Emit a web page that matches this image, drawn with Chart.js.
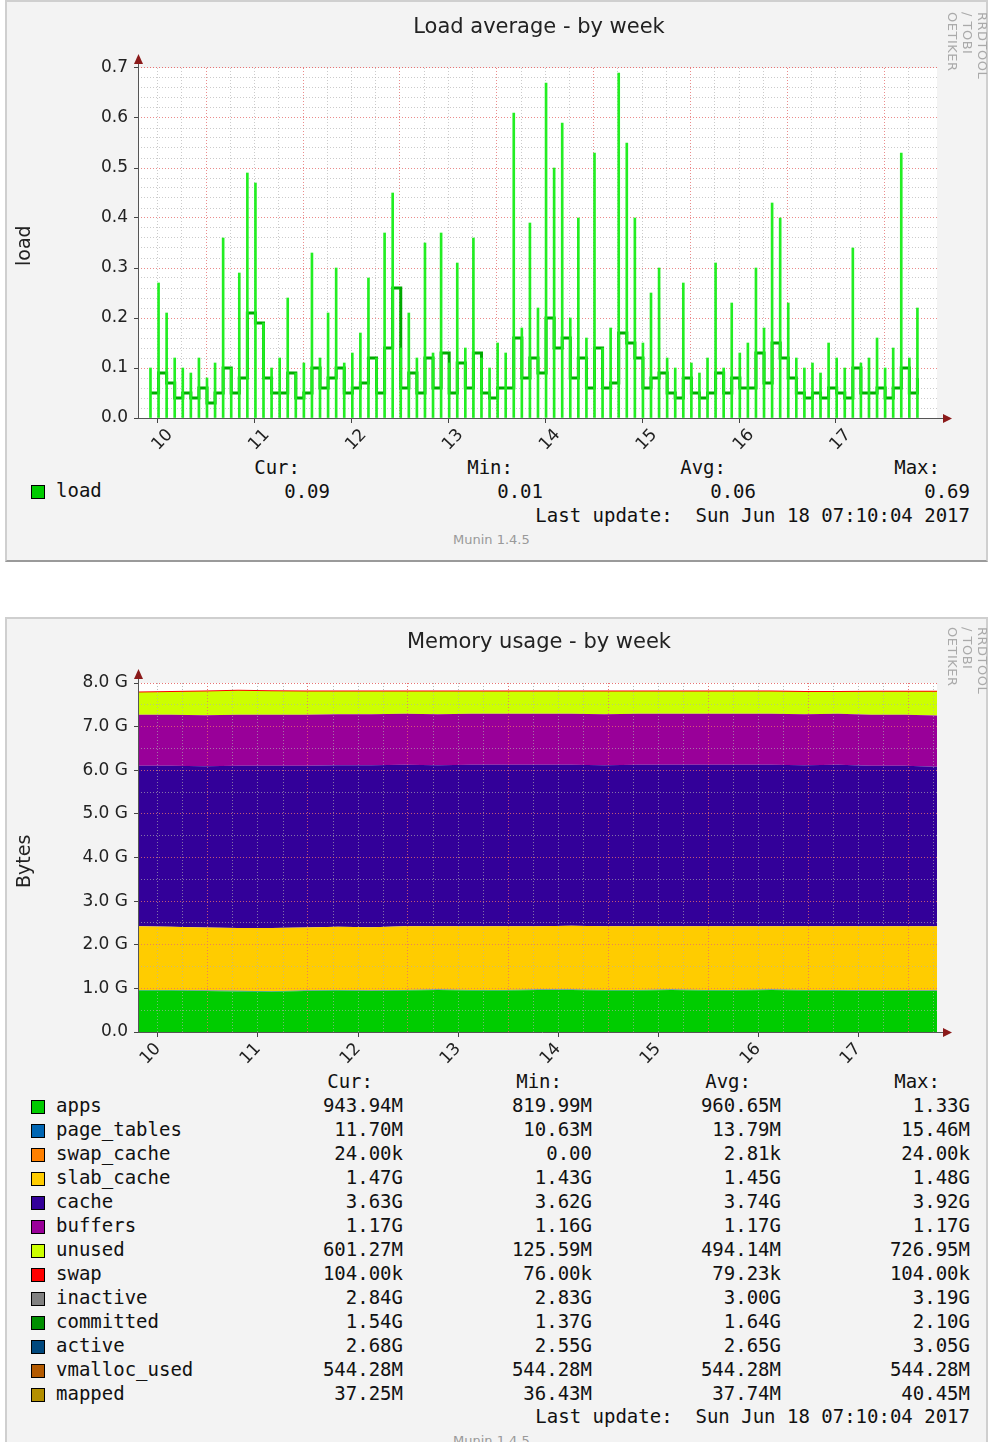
<!DOCTYPE html>
<html><head><meta charset="utf-8">
<script src="https://cdn.jsdelivr.net/npm/chart.js@4.4.1/dist/chart.umd.min.js"></script>
<style>
body{margin:0;width:990px;height:1442px;background:#fff;position:relative;overflow:hidden;font-family:"DejaVu Sans",sans-serif;}
.panel{position:absolute;left:5px;width:983px;background:#f3f3f3;border:2px solid #cfcfcf;border-bottom-color:#9a9a9a;box-sizing:border-box;}
.abs{position:absolute;white-space:pre;}
.title{font-size:21px;color:#222;width:990px;text-align:center;left:45px;}
.mono{font-family:"DejaVu Sans Mono",monospace;font-size:19px;color:#111;}
.r{text-align:right;}
.sw{position:absolute;width:12px;height:12px;border:1px solid #000;}
.vt{position:absolute;transform:rotate(90deg);transform-origin:left top;font-size:13px;color:#aaa;letter-spacing:0.5px;}
.yt{position:absolute;transform:rotate(-90deg);transform-origin:left top;font-size:19px;color:#222;}
.mun{font-size:13px;color:#999;}
</style></head><body>
<div class="panel" style="top:0;height:562px;"></div>
<div class="panel" style="top:617px;height:840px;"></div>
<div id="c1" style="position:absolute;left:0;top:0;width:990px;height:450px;"><canvas id="k1"></canvas></div>
<div id="c2" style="position:absolute;left:0;top:618px;width:990px;height:450px;"><canvas id="k2"></canvas></div>
<div id="txt"></div>
<script>
// ---------- Load average data (2h steps) ----------
const loadPeak = [0.10,0.27,0.21,0.12,0.10,0.09,0.12,0.08,0.11,0.36,0.10,0.29,
0.49,0.47,0.19,0.10,0.12,0.24,0.09,0.11,0.33,0.12,0.21,0.30,
0.11,0.13,0.17,0.28,0.12,0.37,0.45,0.14,0.21,0.12,0.35,0.13,
0.37,0.11,0.31,0.14,0.36,0.12,0.10,0.15,0.13,0.61,0.18,0.39,
0.22,0.67,0.50,0.59,0.20,0.40,0.16,0.53,0.14,0.18,0.69,0.55,
0.40,0.15,0.25,0.30,0.12,0.10,0.27,0.11,0.09,0.12,0.31,0.10,
0.23,0.13,0.15,0.30,0.18,0.43,0.40,0.23,0.12,0.10,0.11,0.09,
0.15,0.12,0.10,0.34,0.11,0.12,0.16,0.10,0.14,0.53,0.12,0.22];
const loadAvg = [0.05,0.09,0.07,0.04,0.05,0.04,0.06,0.03,0.05,0.10,0.05,0.08,
0.21,0.19,0.08,0.05,0.05,0.09,0.04,0.05,0.10,0.06,0.08,0.10,
0.05,0.06,0.07,0.12,0.05,0.14,0.26,0.06,0.09,0.05,0.12,0.06,
0.13,0.05,0.11,0.06,0.13,0.05,0.04,0.06,0.06,0.16,0.08,0.12,
0.09,0.20,0.14,0.16,0.08,0.12,0.06,0.14,0.06,0.07,0.17,0.15,
0.12,0.06,0.08,0.09,0.05,0.04,0.08,0.05,0.04,0.05,0.09,0.05,
0.08,0.06,0.06,0.13,0.07,0.15,0.12,0.08,0.05,0.04,0.05,0.04,
0.06,0.05,0.04,0.10,0.05,0.05,0.06,0.04,0.06,0.10,0.05,0.08];
const loadStart = 9.8, loadStep = 1/12;
const dayTicks = [10,11,12,13,14,15,16,17];
const loadTicks = [0.0,0.1,0.2,0.3,0.4,0.5,0.6,0.7];

// ---------- Memory data (GB, 8h steps) ----------
const memStart = 9.8, memStep = 8/24;
const apps       = [0.95,0.95,0.94,0.93,0.92,0.94,0.95,0.94,0.95,0.96,0.95,0.95,0.96,0.96,0.95,0.95,0.96,0.95,0.95,0.96,0.95,0.95,0.94,0.94,0.94];
const pageTables = [0.013,0.013,0.013,0.013,0.013,0.014,0.014,0.014,0.014,0.014,0.014,0.014,0.014,0.014,0.014,0.014,0.014,0.014,0.014,0.014,0.014,0.014,0.012,0.012,0.012];
const swapCache  = [0,0,0,0,0,0,0,0,0,0,0,0,0,0,0,0,0,0,0,0,0,0,0,0,0];
const slabCache  = [1.46,1.45,1.44,1.44,1.45,1.44,1.45,1.45,1.46,1.45,1.46,1.46,1.45,1.46,1.46,1.46,1.45,1.46,1.46,1.45,1.46,1.46,1.47,1.47,1.47];
const cache      = [3.68,3.69,3.70,3.72,3.72,3.71,3.70,3.71,3.70,3.69,3.70,3.70,3.70,3.69,3.69,3.70,3.70,3.70,3.70,3.70,3.69,3.70,3.68,3.68,3.66];
const buffers    = [1.17,1.17,1.17,1.17,1.17,1.17,1.17,1.17,1.17,1.17,1.17,1.17,1.17,1.17,1.17,1.17,1.17,1.17,1.17,1.17,1.17,1.17,1.17,1.17,1.17];
const unused     = [0.51,0.52,0.54,0.55,0.54,0.53,0.52,0.52,0.51,0.52,0.51,0.51,0.51,0.51,0.52,0.51,0.51,0.51,0.51,0.51,0.51,0.50,0.53,0.53,0.55];
const swap       = [0.0001,0.0001,0.0001,0.0001,0.0001,0.0001,0.0001,0.0001,0.0001,0.0001,0.0001,0.0001,0.0001,0.0001,0.0001,0.0001,0.0001,0.0001,0.0001,0.0001,0.0001,0.0001,0.0001,0.0001,0.0001];
const inactive   = [2.99,2.98,3.10,2.99,3.00,3.00,3.00,2.99,3.00,2.98,2.98,2.97,2.99,2.98,2.98,2.98,2.97,2.97,2.98,2.97,2.98,2.96,2.95,2.90,2.84];
const committed  = [1.62,1.60,1.60,1.58,1.56,1.58,1.58,1.59,1.60,1.66,1.62,1.63,1.64,1.64,1.66,1.64,1.67,1.64,1.63,1.65,1.62,1.63,1.62,1.63,1.57];
const active     = [2.64,2.66,2.60,2.58,2.60,2.62,2.60,2.62,2.63,2.64,2.65,2.66,2.65,2.66,2.66,2.67,2.66,2.67,2.66,2.66,2.65,2.65,2.64,2.63,2.68];
const vmalloc    = [0.544,0.544,0.544,0.544,0.544,0.544,0.544,0.544,0.544,0.544,0.544,0.544,0.544,0.544,0.544,0.544,0.544,0.544,0.544,0.544,0.544,0.544,0.544,0.544,0.544];
const mapped     = [0.037,0.037,0.038,0.038,0.038,0.037,0.037,0.038,0.038,0.037,0.037,0.038,0.038,0.038,0.037,0.037,0.038,0.038,0.037,0.037,0.038,0.038,0.037,0.037,0.037];
const memTicks = [0,1,2,3,4,5,6,7,8];

const xy = (arr, s, st) => arr.map((v,i)=>({x:s+i*st, y:v}));
const tv = c => (c && c.tick) ? c.tick.value : NaN;
const isInt=v=>Math.abs(v-Math.round(v))<1e-6;
const RED='rgba(230,110,110,0.8)', GREY='rgba(175,175,175,0.65)', CLR='rgba(0,0,0,0)';

const deco = {
  id:'deco',
  beforeDatasetsDraw(c){const a=c.chartArea,g=c.ctx;g.save();g.fillStyle='#fff';g.fillRect(a.left,a.top,a.right-a.left,a.bottom-a.top);g.restore();
    c.scales.x.drawGrid(a);c.scales.y.drawGrid(a);},
  afterDatasetsDraw(c){const a=c.chartArea,g=c.ctx;
    if(c.options.gridOnTop){c.scales.x.drawGrid(a);c.scales.y.drawGrid(a);}
    g.save();g.strokeStyle='#555';g.lineWidth=1;
    g.beginPath();g.moveTo(a.left+0.5,a.bottom);g.lineTo(a.left+0.5,a.top-10);g.stroke();
    g.beginPath();g.moveTo(a.left,a.bottom+0.5);g.lineTo(a.right+10,a.bottom+0.5);g.stroke();
    g.fillStyle='#8b1a1a';
    g.beginPath();g.moveTo(a.left-4,a.top-4);g.lineTo(a.left+5,a.top-4);g.lineTo(a.left+0.5,a.top-14);g.fill();
    g.beginPath();g.moveTo(a.right+6,a.bottom-4);g.lineTo(a.right+6,a.bottom+5);g.lineTo(a.right+15,a.bottom+0.5);g.fill();
    g.restore();}
};
function xScale(h){return {type:'linear',min:9.8,max:17.79,
  afterBuildTicks(s){const t=[];for(let v=10;v<=17.75;v+=0.25)t.push({value:v});s.ticks=t;},
  afterFit(s){s.height=h;},
  ticks:{autoSkip:false,color:'#222',font:{size:17,family:'DejaVu Sans'},padding:2,
    callback:v=>isInt(v)&&dayTicks.includes(Math.round(v))?String(Math.round(v)):''},
  grid:{drawOnChartArea:true,tickLength:5,
    color:c=>{const v=tv(c);if(isNaN(v))return CLR;return Math.abs((v%1)-0.5)<1e-6?RED:GREY;},
    tickColor:c=>{const v=tv(c);return (!isNaN(v)&&isInt(v))?'#444':CLR;}},
  border:{display:false,dash:[1,2]}};}

new Chart(document.getElementById('k1'),{
  data:{datasets:[
    {type:'bar',data:xy(loadPeak,loadStart,loadStep),backgroundColor:'#22ee22',barThickness:2},
    {type:'line',data:xy(loadAvg,loadStart,loadStep),borderColor:'#00aa00',borderWidth:3,pointRadius:0,stepped:true}
  ]},
  options:{responsive:true,maintainAspectRatio:false,animation:false,
    layout:{padding:{top:68,right:53,left:0,bottom:0}},
    plugins:{legend:{display:false},tooltip:{enabled:false}},
    scales:{x:xScale(32),
      y:{min:0,max:0.7,afterFit(s){s.width=138;},
        afterBuildTicks(s){const t=[];for(let i=0;i<=35;i++)t.push({value:i*0.02});s.ticks=t;},
        ticks:{autoSkip:false,color:'#222',font:{size:17,family:'DejaVu Sans'},padding:6,
          callback:v=>{const k=Math.round(v*10);return Math.abs(v*10-k)<1e-6&&loadTicks.includes(k/10)?(k/10).toFixed(1):'';}},
        grid:{tickLength:4,
          color:c=>{const v=tv(c)*10;if(isNaN(v))return CLR;return isInt(v)?RED:GREY;},
          tickColor:c=>{const v=tv(c)*10;return (!isNaN(v)&&isInt(v))?'#444':CLR;}},
        border:{display:false,dash:[1,2]}}}},
  plugins:[deco]
});

const area=(d,col,f)=>({type:'line',data:xy(d,memStart,memStep),backgroundColor:col,borderColor:col,borderWidth:0,fill:f,pointRadius:0,stack:'mem'});
const lineDs=(d,col,w,st)=>({type:'line',data:xy(d,memStart,memStep),borderColor:col,borderWidth:w,fill:false,pointRadius:0,stack:st,stepped:true});
new Chart(document.getElementById('k2'),{
  data:{datasets:[
    area(apps,'#00cc00','origin'),area(pageTables,'#0066b3','-1'),area(swapCache,'#ff8000','-1'),
    area(slabCache,'#ffcc00','-1'),area(cache,'#330099','-1'),area(buffers,'#990099','-1'),
    area(unused,'#ccff00','-1'),
    Object.assign(area(swap,'#ff0000','-1'),{borderWidth:2}),
    lineDs(inactive,'#888888',4,'a'),lineDs(committed,'#008f00',5,'b'),lineDs(active,'#1a5a8a',5,'c'),
    lineDs(vmalloc,'#b35a00',5,'d'),lineDs(mapped,'#b38f00',5,'e')
  ]},
  options:{responsive:true,maintainAspectRatio:false,animation:false,gridOnTop:true,
    layout:{padding:{top:65,right:53,left:0,bottom:0}},
    plugins:{legend:{display:false},tooltip:{enabled:false}},
    scales:{x:xScale(36),
      y:{stacked:true,min:0,max:8,afterFit(s){s.width=138;},
        afterBuildTicks(s){const t=[];for(let i=0;i<=16;i++)t.push({value:i*0.5});s.ticks=t;},
        ticks:{autoSkip:false,color:'#222',font:{size:17,family:'DejaVu Sans'},padding:6,
          callback:v=>isInt(v)&&memTicks.includes(Math.round(v))?(v===0?'0.0':v.toFixed(1)+' G'):''},
        grid:{tickLength:4,
          color:c=>{const v=tv(c);if(isNaN(v))return CLR;return isInt(v)?RED:GREY;},
          tickColor:c=>{const v=tv(c);return (!isNaN(v)&&isInt(v))?'#444':CLR;}},
        border:{display:false,dash:[1,2]}}}},
  plugins:[deco]
});

// ---------- Texts ----------
const T=document.getElementById('txt');
function add(html,cls,style){const d=document.createElement('div');d.className=cls;d.setAttribute('style',style);d.innerHTML=html;T.appendChild(d);}
add('Load average - by week','abs title','top:14px;left:44px;');
add('Memory usage - by week','abs title','top:629px;left:44px;');
add('load','yt','left:12px;top:266px;');
add('Bytes','yt','left:12px;top:888px;');
add('RRDTOOL / TOBI OETIKER','vt','left:990px;top:12px;');
add('RRDTOOL / TOBI OETIKER','vt','left:990px;top:627px;');
const topCols=[330,543,756,970], hdr=['Cur:','Min:','Avg:','Max:'];
hdr.forEach((h,i)=>add(h,'abs mono r',`top:456px;left:${topCols[i]-230}px;width:200px;`));
add('','sw','left:31px;top:485px;background:#00cc00;');
add('load','abs mono','left:56px;top:479px;');
['0.09','0.01','0.06','0.69'].forEach((v,i)=>add(v,'abs mono r',`top:480px;left:${topCols[i]-200}px;width:200px;`));
add('Last update:  Sun Jun 18 07:10:04 2017','abs mono r','top:504px;left:370px;width:600px;');
add('Munin 1.4.5','abs mun','top:532px;left:453px;');
const memNames=['apps','page_tables','swap_cache','slab_cache','cache','buffers','unused','swap','inactive','committed','active','vmalloc_used','mapped'];
const memColors=['#00cc00','#0066b3','#ff8000','#ffcc00','#330099','#990099','#ccff00','#ff0000','#808080','#008f00','#00487d','#b35a00','#b38f00'];
const memCur=['943.94M','11.70M','24.00k','1.47G','3.63G','1.17G','601.27M','104.00k','2.84G','1.54G','2.68G','544.28M','37.25M'];
const memMin=['819.99M','10.63M','0.00','1.43G','3.62G','1.16G','125.59M','76.00k','2.83G','1.37G','2.55G','544.28M','36.43M'];
const memAvg=['960.65M','13.79M','2.81k','1.45G','3.74G','1.17G','494.14M','79.23k','3.00G','1.64G','2.65G','544.28M','37.74M'];
const memMax=['1.33G','15.46M','24.00k','1.48G','3.92G','1.17G','726.95M','104.00k','3.19G','2.10G','3.05G','544.28M','40.45M'];
const botCols=[403,592,781,970];
hdr.forEach((h,i)=>add(h,'abs mono r',`top:1070px;left:${botCols[i]-230}px;width:200px;`));
memNames.forEach((n,r)=>{const y=1094+r*24;
  add('','sw',`left:31px;top:${y+6}px;background:${memColors[r]};`);
  add(n,'abs mono',`left:56px;top:${y}px;`);
  [memCur,memMin,memAvg,memMax].forEach((a,i)=>add(a[r],'abs mono r',`top:${y}px;left:${botCols[i]-200}px;width:200px;`));});
add('Last update:  Sun Jun 18 07:10:04 2017','abs mono r','top:1405px;left:370px;width:600px;');
add('Munin 1.4.5','abs mun','top:1433px;left:453px;');
</script>
</body></html>
